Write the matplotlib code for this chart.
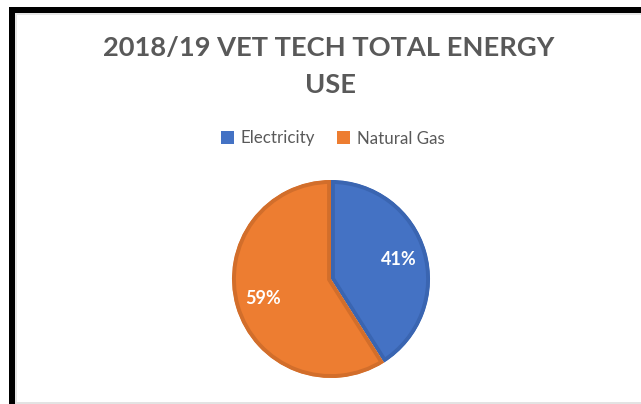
import matplotlib
matplotlib.use("Agg")
import matplotlib.pyplot as plt
from matplotlib.patches import Rectangle

# ---- data ----
categories = ["Electricity", "Natural Gas"]
shares = [41, 59]
pct_labels = ["41%", "59%"]
title = "2018/19 VET TECH TOTAL ENERGY\nUSE"

colors = ["#4472C4", "#ED7D31"]
edge_colors = ["#3A65B1", "#D26E2B"]

W, H = 641, 404
fig = plt.figure(figsize=(W / 100, H / 100), dpi=100)
fig.patch.set_facecolor("white")

def fx(px):
    return px / W

def fy(py):
    return 1 - py / H

# frame decorations (black border top + left, faint grey inner lines)
fig.patches.append(Rectangle((fx(15), fy(15)), fx(641 - 15), 2 / H, transform=fig.transFigure,
                             facecolor="#E6E6E6", edgecolor="none", zorder=0))
fig.patches.append(Rectangle((fx(15), fy(404)), 2 / W, fy(15) - fy(404), transform=fig.transFigure,
                             facecolor="#E6E6E6", edgecolor="none", zorder=0))
fig.patches.append(Rectangle((fx(15), fy(404)), fx(641 - 15), 2 / H, transform=fig.transFigure,
                             facecolor="#E3E3E3", edgecolor="none", zorder=0))
fig.patches.append(Rectangle((fx(9), fy(13)), fx(641 - 9), 6 / H, transform=fig.transFigure,
                             facecolor="black", edgecolor="none", zorder=1))
fig.patches.append(Rectangle((fx(9), fy(404)), 6 / W, fy(7) - fy(404), transform=fig.transFigure,
                             facecolor="black", edgecolor="none", zorder=1))

# title
title_font = ["Lato", "DejaVu Sans"]
lines = title.split("\n")
fig.text(fx(329), fy(48), lines[0], ha="center", va="center", fontsize=19.6,
         fontweight="bold", color="#595959", family=title_font)
fig.text(fx(330.5), fy(85), lines[1], ha="center", va="center", fontsize=19.6,
         fontweight="bold", color="#595959", family=title_font)

# pie
cx, cy, R = 331, 279, 100
ax = fig.add_axes([fx(cx - 1.1 * R), fy(cy + 1.1 * R), 2.2 * R / W, 2.2 * R / H])

wedges, texts = ax.pie(shares, colors=colors, startangle=90, counterclock=False,
                       radius=0.99, labels=pct_labels, labeldistance=0.71,
                       wedgeprops=dict(linewidth=5.6))
ax.set_xlim(-1.1, 1.1)
ax.set_ylim(-1.1, 1.1)
ax.set_aspect("equal")
ax.axis("off")
for w, ec in zip(wedges, edge_colors):
    w.set_edgecolor(ec)
    w.set_joinstyle("miter")
    w.set_clip_on(True)
    w.set_clip_path(w.get_path(), w.get_transform())  # keep the border inside each slice
for t in texts:
    t.set_color("white")
    t.set_fontsize(13)
    t.set_fontweight("bold")
    t.set_family(["Lato", "DejaVu Sans"])
    t.set_ha("center")
    t.set_va("center")

# legend
leg = fig.legend(wedges, categories, loc="center", bbox_to_anchor=(fx(333), fy(138.5)),
                 ncol=2, frameon=False, handlelength=0.75, handleheight=0.75,
                 handletextpad=0.4, columnspacing=1.3,
                 prop={"family": ["Lato", "DejaVu Sans"], "size": 12.2})
for t in leg.get_texts():
    t.set_color("#595959")
for h, c in zip(leg.legend_handles, colors):
    h.set_edgecolor("none")
    h.set_facecolor(c)
    h.set_linewidth(0)

fig.savefig("out.png", dpi=100, facecolor="white")
